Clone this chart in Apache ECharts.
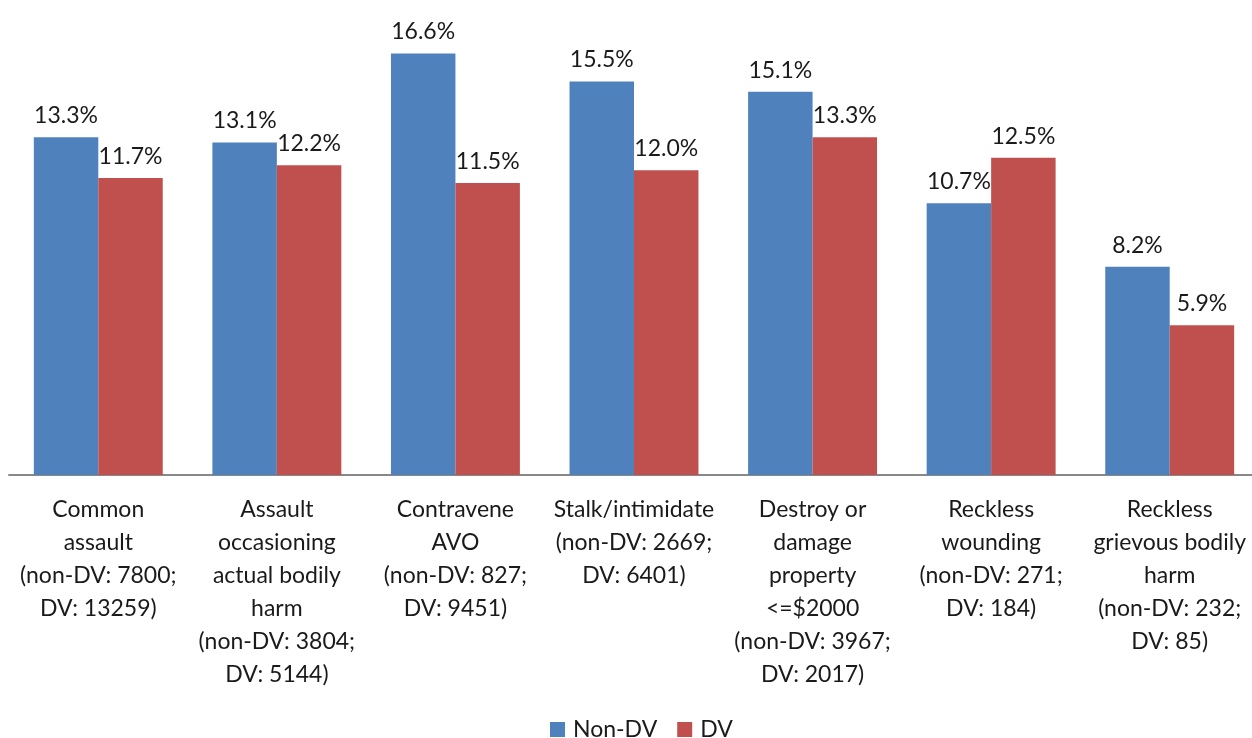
<!DOCTYPE html>
<html>
<head>
<meta charset="utf-8">
<script src="https://cdn.jsdelivr.net/npm/echarts@6/dist/echarts.min.js"></script>
<style>
  html, body { margin: 0; padding: 0; background: #fff; }
  #chart { width: 1252px; height: 738px; }
</style>
</head>
<body>
<div id="chart"></div>
<script>
// categories (wrapped the way the original chart wraps them)
var categories = [
    'Common\nassault\n(non-DV: 7800;\nDV: 13259)',
    'Assault\noccasioning\nactual bodily\nharm\n(non-DV: 3804;\nDV: 5144)',
    'Contravene\nAVO\n(non-DV: 827;\nDV: 9451)',
    'Stalk/intimidate\n(non-DV: 2669;\nDV: 6401)',
    'Destroy or\ndamage\nproperty\n<=$2000\n(non-DV: 3967;\nDV: 2017)',
    'Reckless\nwounding\n(non-DV: 271;\nDV: 184)',
    'Reckless\ngrievous bodily\nharm\n(non-DV: 232;\nDV: 85)'
];
var nonDV = [13.3, 13.1, 16.6, 15.5, 15.1, 10.7, 8.2];
var dv = [11.7, 12.2, 11.5, 12.0, 13.3, 12.5, 5.9];

var font = 'Lato, "Open Sans", sans-serif';

var myChart = echarts.init(document.getElementById('chart'));

var labelStyle = {
    show: true,
    position: 'top',
    distance: 10,
    fontFamily: font,
    fontSize: 23,
    color: '#1a1a1a',
    formatter: function (p) { return p.value.toFixed(1) + '%'; }
};

var option = {
    animation: false,
    textStyle: { fontFamily: font },
    legend: {
        bottom: -8,
        left: 545,
        itemWidth: 15,
        itemHeight: 15,
        itemGap: 20,
        icon: 'rect',
        textStyle: { fontFamily: font, fontSize: 23, color: '#1a1a1a', padding: [0, 0, 0, 3] },
        data: ['Non-DV', 'DV']
    },
    grid: { left: 9, width: 1250, top: 18, bottom: 263, outerBoundsMode: 'none', containLabel: false },
    xAxis: {
        type: 'category',
        data: categories,
        axisLine: { lineStyle: { color: '#888', width: 2 } },
        axisTick: { show: false },
        axisLabel: {
            interval: 0,
            margin: 18,
            fontFamily: font,
            fontSize: 23,
            lineHeight: 33,
            color: '#1a1a1a'
        }
    },
    yAxis: {
        type: 'value',
        min: 0,
        max: 18,
        show: false,
        splitLine: { show: false }
    },
    series: [
        {
            name: 'Non-DV',
            type: 'bar',
            data: nonDV,
            barGap: '0%',
            barCategoryGap: '27.8%',
            itemStyle: { color: '#4F81BD' },
            label: labelStyle
        },
        {
            name: 'DV',
            type: 'bar',
            data: dv,
            itemStyle: { color: '#C0504D' },
            label: labelStyle
        }
    ]
};

myChart.setOption(option);
</script>
</body>
</html>
